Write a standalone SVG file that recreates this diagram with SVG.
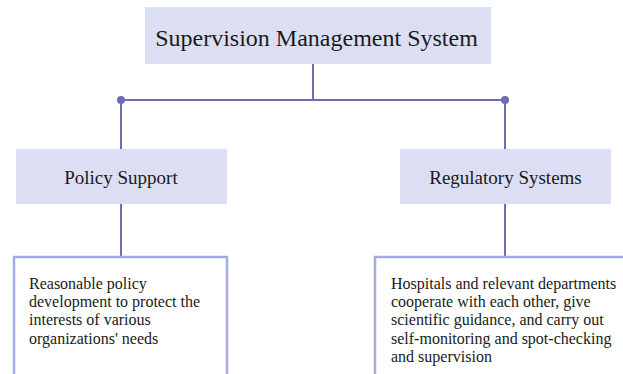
<svg xmlns="http://www.w3.org/2000/svg" width="623" height="374" viewBox="0 0 623 374">
<style>
.box{fill:#dcdff4;}
.leaf{fill:#ffffff;stroke:#a6aae2;stroke-width:2.5;}
.t{font-family:"Liberation Serif","Times New Roman",serif;fill:#1a1a1a;}
.title{font-size:24px;text-anchor:middle;}
.mid{font-size:19px;text-anchor:middle;}
.body{font-size:16px;}
.conn line{stroke:#6c6cb4;stroke-width:2;}
.conn circle{fill:#6c6cb4;}
</style>
<rect width="623" height="374" fill="#ffffff"/>
<g id="connectors" class="conn">
<line x1="313" y1="64" x2="313" y2="100"/>
<line x1="121" y1="100" x2="505" y2="100"/>
<line x1="121" y1="100" x2="121" y2="149"/>
<line x1="505" y1="100" x2="505" y2="149"/>
<line x1="121" y1="204" x2="121" y2="256"/>
<line x1="505" y1="204" x2="505" y2="256"/>
<circle cx="121" cy="100" r="4"/>
<circle cx="505" cy="100" r="4"/>
</g>
<g id="root">
<rect class="box" x="145" y="7" width="346" height="57"/>
<text class="t title" x="316.5" y="46">Supervision Management System</text>
</g>
<g id="policy-support">
<rect class="box" x="16" y="149" width="211" height="55"/>
<text class="t mid" x="121" y="184">Policy Support</text>
</g>
<g id="regulatory-systems">
<rect class="box" x="400" y="149" width="211" height="55"/>
<text class="t mid" x="505.5" y="184">Regulatory Systems</text>
</g>
<g id="policy-detail">
<rect class="leaf" x="14" y="257" width="213" height="130"/>
<text class="t body" x="29" y="289">Reasonable policy</text>
<text class="t body" x="29" y="307.2">development to protect the</text>
<text class="t body" x="29" y="325.4">interests of various</text>
<text class="t body" x="29" y="343.6">organizations' needs</text>
</g>
<g id="regulatory-detail">
<rect class="leaf" x="375" y="257" width="260" height="130"/>
<text class="t body" x="391" y="289">Hospitals and relevant departments</text>
<text class="t body" x="391" y="307.2">cooperate with each other, give</text>
<text class="t body" x="391" y="325.4">scientific guidance, and carry out</text>
<text class="t body" x="391" y="343.6">self-monitoring and spot-checking</text>
<text class="t body" x="391" y="361.8">and supervision</text>
</g>
</svg>
